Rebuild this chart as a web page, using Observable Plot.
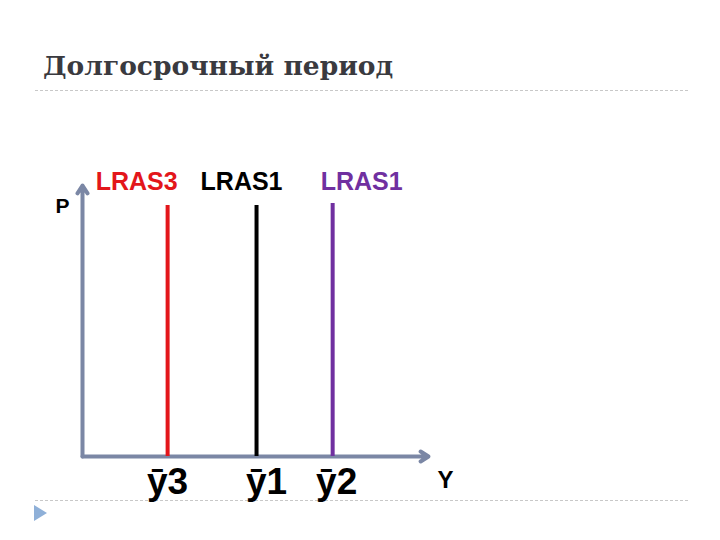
<!DOCTYPE html>
<html><head><meta charset="utf-8">
<script src="https://cdn.jsdelivr.net/npm/d3@7"></script>
<script src="https://cdn.jsdelivr.net/npm/@observablehq/plot@0.6"></script>
<style>
html,body{margin:0;padding:0;background:#fff;}
#wrap{position:relative;width:720px;height:540px;overflow:hidden;background:#fff;}
#title{position:absolute;left:43px;top:50px;font-family:"DejaVu Serif",serif;font-weight:bold;font-size:26.5px;color:#3a3a3f;white-space:nowrap;}
.dash{position:absolute;left:35px;width:653px;height:0;border-top:1px dashed #c8c8c8;}
#tri{position:absolute;left:34px;top:505px;width:0;height:0;border-top:8px solid transparent;border-bottom:8px solid transparent;border-left:13px solid #8fb0d8;}
#chart{position:absolute;left:0;top:0;}
</style></head>
<body><div id="wrap">
<div id="title">Долгосрочный период</div>
<div class="dash" style="top:90px"></div>
<div class="dash" style="top:500px"></div>
<div id="tri"></div>
<div id="chart"></div>
</div>
<script>
// Data
const curves = ["LRAS3", "LRAS1", "LRAS1"];
const outputLabels = ["ȳ3", "ȳ1", "ȳ2"];
const outputLevels = [2.46, 5.03, 7.23];
const curveTops = [9.26, 9.26, 9.34];
const curveColors = ["#e3161b", "#000000", "#7030a0"];
const axisLabels = ["P", "Y"];

const rows = curves.map((c, i) => ({curve: c, out: outputLabels[i], x: outputLevels[i], top: curveTops[i], color: curveColors[i]}));
const labelDx = [-31, -15, 29];
const outDx = [0, 10, 4];
const axisColor = "#7b87a5";

const marks = [
  Plot.arrow([{x1: 0, y1: 0, x2: 0, y2: 10}], {x1: "x1", y1: "y1", x2: "x2", y2: "y2", stroke: axisColor, strokeWidth: 4, headLength: 3.5, headAngle: 65}),
  Plot.arrow([{x1: 0, y1: 0, x2: 10, y2: 0}], {x1: "x1", y1: "y1", x2: "x2", y2: "y2", stroke: axisColor, strokeWidth: 4, headLength: 3.5, headAngle: 65}),
];
rows.forEach((r, i) => {
  marks.push(Plot.ruleX([r], {x: "x", y1: 0, y2: "top", stroke: r.color, strokeWidth: 4}));
  marks.push(Plot.text([r], {x: "x", y: 10, text: "curve", fill: r.color, dx: labelDx[i], dy: 4, lineAnchor: "bottom", fontSize: 25, fontWeight: "bold", fontFamily: "Liberation Sans, Arial, sans-serif"}));
  marks.push(Plot.text([r], {x: "x", y: 0, text: "out", fill: "#000", dx: outDx[i], dy: 11, lineAnchor: "top", fontSize: 37, fontWeight: "bold", fontFamily: "Liberation Sans, Arial, sans-serif"}));
});
marks.push(Plot.text([{x: 0, y: 10, t: axisLabels[0]}], {x: "x", y: "y", text: "t", dx: -20, dy: 21, fontSize: 21, fontWeight: "bold", fill: "#000", fontFamily: "Liberation Sans, Arial, sans-serif"}));
marks.push(Plot.text([{x: 10, y: 0, t: axisLabels[1]}], {x: "x", y: "y", text: "t", dx: 17, dy: 24, fontSize: 24, fontWeight: "bold", fill: "#000", fontFamily: "Liberation Sans, Arial, sans-serif"}));

const chart = Plot.plot({
  width: 720, height: 540,
  marginLeft: 82, marginRight: 292, marginTop: 185, marginBottom: 84,
  x: {domain: [0, 10], axis: null},
  y: {domain: [0, 10], axis: null},
  style: {background: "transparent", overflow: "visible"},
  marks
});
document.getElementById("chart").appendChild(chart);
</script>
</body></html>
